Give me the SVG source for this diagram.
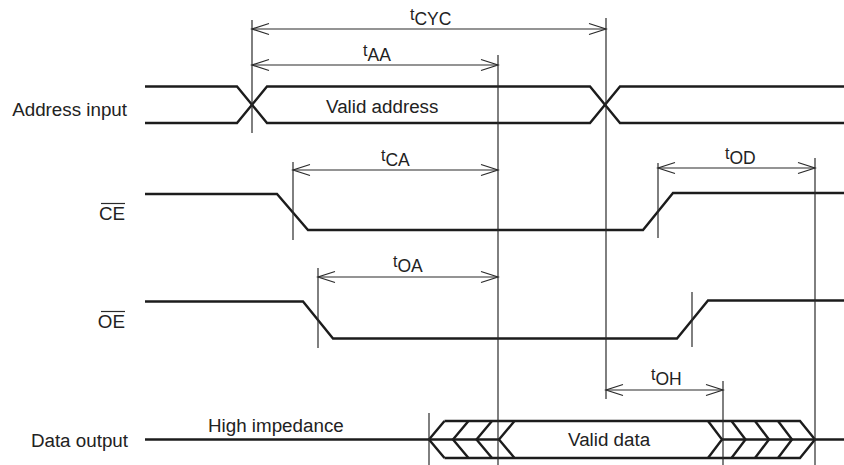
<svg xmlns="http://www.w3.org/2000/svg" width="844" height="465" viewBox="0 0 844 465">
<style>
.sig{fill:none;stroke:#1c1c1c;stroke-width:2.4;stroke-linejoin:miter}
.ref{fill:none;stroke:#2a2a2a;stroke-width:1.2}
.dim{fill:none;stroke:#2a2a2a;stroke-width:1.2;marker-start:url(#ah);marker-end:url(#ah)}
text{font-family:"Liberation Sans",Arial,sans-serif;fill:#222}
.lab{font-size:18.8px}
.t{font-size:16px}
.sub{font-size:17.5px}
</style>
<defs>
<marker id="ah" markerUnits="userSpaceOnUse" markerWidth="20" markerHeight="14" viewBox="-18 -7 20 14" refX="0" refY="0" orient="auto-start-reverse">
<path d="M-17,-5.5 L0,0 L-17,5.5" fill="none" stroke="#2a2a2a" stroke-width="1.2"/>
</marker>
</defs>
<rect width="844" height="465" fill="#fff"/>

<g id="address">
<text class="lab" x="127" y="116" text-anchor="end">Address input</text>
<path class="sig" d="M145,86.5 H237 L267,123 H590 L620,86.5 H844"/>
<path class="sig" d="M145,123 H237 L267,86.5 H590 L620,123 H844"/>
<text class="lab" x="326" y="113">Valid address</text>
</g>

<g id="ce">
<text class="lab" x="125" y="219.5" text-anchor="end">CE</text>
<line class="ref" x1="101" y1="203.5" x2="125" y2="203.5"/>
<path class="sig" d="M145,194 H277 L308,230 H643 L673,193 H844"/>
</g>

<g id="oe">
<text class="lab" x="125" y="327.5" text-anchor="end">OE</text>
<line class="ref" x1="101" y1="311.5" x2="125" y2="311.5"/>
<path class="sig" d="M145,301.5 H303 L333,338.5 H677 L708,300.5 H844"/>
</g>

<g id="data">
<text class="lab" x="128" y="446.5" text-anchor="end">Data output</text>
<text class="lab" x="208" y="432">High impedance</text>
<path class="sig" d="M145,439.5 H499"/>
<path class="sig" d="M722,439.5 H844"/>
<path class="sig" d="M444.5,421 L429,439.5 L444.5,458"/>
<path class="sig" d="M468.5,421 L453,439.5 L468.5,458"/>
<path class="sig" d="M492,421 L476.5,439.5 L492,458"/>
<path class="sig" d="M514.5,421 L499,439.5 L514.5,458"/>
<path class="sig" d="M444.5,421 H800 L815,439.5 L800,458 H444.5"/>
<path class="sig" d="M708,421 L722,439.5 L708,458"/>
<path class="sig" d="M731.5,421 L745.5,439.5 L731.5,458"/>
<path class="sig" d="M755,421 L769,439.5 L755,458"/>
<path class="sig" d="M778,421 L792,439.5 L778,458"/>
<text class="lab" x="568" y="446">Valid data</text>
</g>

<g id="connectors">
<line class="ref" x1="252" y1="20" x2="252" y2="133"/>
<line class="ref" x1="606" y1="18" x2="606" y2="399"/>
<line class="ref" x1="498" y1="55" x2="498" y2="465"/>
<line class="ref" x1="293" y1="162" x2="293" y2="240"/>
<line class="ref" x1="318" y1="268" x2="318" y2="348"/>
<line class="ref" x1="658" y1="163" x2="658" y2="238"/>
<line class="ref" x1="692" y1="292" x2="692" y2="347"/>
<line class="ref" x1="815" y1="158" x2="815" y2="465"/>
<line class="ref" x1="723" y1="381" x2="723" y2="465"/>
<line class="ref" x1="429" y1="413" x2="429" y2="465"/>

<line class="dim" x1="252" y1="29" x2="606" y2="29"/>
<line class="dim" x1="252" y1="65" x2="498" y2="65"/>
<line class="dim" x1="293" y1="170" x2="498" y2="170"/>
<line class="dim" x1="318" y1="277" x2="498" y2="277"/>
<line class="dim" x1="658" y1="168" x2="815" y2="168"/>
<line class="dim" x1="606" y1="390" x2="723" y2="390"/>

<text class="t" x="410" y="20">t<tspan class="sub" y="25">CYC</tspan></text>
<text class="t" x="363" y="56">t<tspan class="sub" y="61">AA</tspan></text>
<text class="t" x="381" y="161">t<tspan class="sub" y="166">CA</tspan></text>
<text class="t" x="393" y="267">t<tspan class="sub" y="272">OA</tspan></text>
<text class="t" x="725" y="159">t<tspan class="sub" y="164">OD</tspan></text>
<text class="t" x="651" y="380">t<tspan class="sub" y="385">OH</tspan></text>
</g>
</svg>
